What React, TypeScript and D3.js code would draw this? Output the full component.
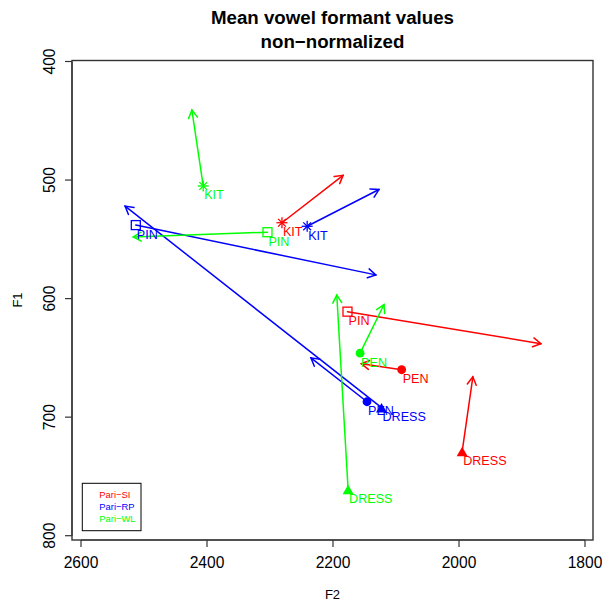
import React from "react";
import * as d3 from "d3";

const speakers = ["Pari−SI", "Pari−RP", "Pari−WL"];
const speakerColors = ["#FF0000", "#0000FF", "#00FF00"];
const vowels = ["KIT", "PIN", "PEN", "DRESS"];
const vowelShapes = ["asterisk", "square", "circle", "triangle"];

// per speaker, per vowel (KIT, PIN, PEN, DRESS)
const startF2 = [
  [2281, 2177, 2091, 1995],
  [2241, 2513, 2146, 2123],
  [2406, 2304, 2157, 2176],
];
const startF1 = [
  [536, 611, 660, 729],
  [539, 538, 687, 692],
  [505, 544, 646, 761],
];
const endF2 = [
  [2184, 1870, 2155, 1978],
  [2127, 2132, 2235, 2530],
  [2424, 2517, 2119, 2194],
];
const endF1 = [
  [496, 638, 655, 666],
  [508, 580, 650, 522],
  [441, 548, 605, 597],
];

const xTicks = [2600, 2400, 2200, 2000, 1800];
const yTicks = [400, 500, 600, 700, 800];

const FONT = "'Liberation Sans', Arial, Helvetica, sans-serif";

function Symbol({ shape, cx, cy, color }: { shape: string; cx: number; cy: number; color: string }) {
  if (shape === "asterisk") {
    const r = 5.5;
    const d = r * Math.SQRT1_2;
    return (
      <g stroke={color} strokeWidth={1.3}>
        <line x1={cx - r} y1={cy} x2={cx + r} y2={cy} />
        <line x1={cx} y1={cy - r} x2={cx} y2={cy + r} />
        <line x1={cx - d} y1={cy - d} x2={cx + d} y2={cy + d} />
        <line x1={cx - d} y1={cy + d} x2={cx + d} y2={cy - d} />
      </g>
    );
  }
  if (shape === "square") {
    const s = 9;
    return <rect x={cx - s / 2} y={cy - s / 2} width={s} height={s} fill="none" stroke={color} strokeWidth={1.3} />;
  }
  if (shape === "circle") {
    return <circle cx={cx} cy={cy} r={4.4} fill={color} />;
  }
  const w = 11;
  const h = 9.5;
  const p = `M${cx - w / 2},${cy + h / 2}L${cx + w / 2},${cy + h / 2}L${cx},${cy - h / 2}Z`;
  return <path d={p} fill={color} />;
}

function Arrow({ x1, y1, x2, y2, color }: { x1: number; y1: number; x2: number; y2: number; color: string }) {
  const ang = Math.atan2(y2 - y1, x2 - x1);
  const L = 9;
  const a = Math.PI / 6;
  const b1x = x2 - L * Math.cos(ang - a);
  const b1y = y2 - L * Math.sin(ang - a);
  const b2x = x2 - L * Math.cos(ang + a);
  const b2y = y2 - L * Math.sin(ang + a);
  return (
    <g stroke={color} strokeWidth={1.5} fill="none" strokeLinecap="round">
      <line x1={x1} y1={y1} x2={x2} y2={y2} />
      <path d={`M${b1x},${b1y}L${x2},${y2}L${b2x},${b2y}`} />
    </g>
  );
}

export default function App() {
  const W = 602;
  const H = 603;
  const box = { l: 72, r: 593, t: 60.5, b: 540 };
  const x = d3.scaleLinear().domain([2600, 1800]).range([81, 585]);
  const y = d3.scaleLinear().domain([400, 800]).range([61.5, 535.7]);
  const cxm = (box.l + box.r) / 2;

  return (
    <svg width={W} height={H} style={{ position: "absolute", left: 0, top: 0, background: "#fff" }} fontFamily={FONT}>
      <rect x={0} y={0} width={W} height={H} fill="#fff" />
      {/* title */}
      <text x={cxm} y={24} textAnchor="middle" fontWeight="bold" fontSize={18.7} fill="#000">
        Mean vowel formant values
      </text>
      <text x={cxm} y={48} textAnchor="middle" fontWeight="bold" fontSize={18.7} fill="#000">
        non−normalized
      </text>

      {/* box */}
      <rect x={box.l} y={box.t} width={box.r - box.l} height={box.b - box.t} fill="none" stroke="#333" strokeWidth={1.4} />

      {/* x axis */}
      <line x1={x(2600)} x2={x(1800)} y1={box.b} y2={box.b} stroke="#333" strokeWidth={1.2} />
      {xTicks.map((t) => (
        <g key={"xt" + t}>
          <line x1={x(t)} x2={x(t)} y1={box.b} y2={box.b + 7} stroke="#333" strokeWidth={1.2} />
          <text x={x(t)} y={568} textAnchor="middle" fontSize={15.6} fill="#000">
            {t}
          </text>
        </g>
      ))}
      <text x={cxm} y={599} textAnchor="middle" fontSize={13} fill="#000">
        F2
      </text>

      {/* y axis */}
      <line x1={box.l} x2={box.l} y1={y(400)} y2={y(800)} stroke="#333" strokeWidth={1.2} />
      {yTicks.map((t) => (
        <g key={"yt" + t}>
          <line x1={box.l - 7} x2={box.l} y1={y(t)} y2={y(t)} stroke="#333" strokeWidth={1.2} />
          <text
            x={55}
            y={y(t)}
            textAnchor="middle"
            fontSize={15.6}
            fill="#000"
            transform={`rotate(-90, 55, ${y(t)})`}
          >
            {t}
          </text>
        </g>
      ))}
      <text x={22} y={300} textAnchor="middle" fontSize={13} fill="#000" transform="rotate(-90, 22, 300)">
        F1
      </text>

      {/* arrows */}
      {speakers.map((s, si) =>
        vowels.map((v, vi) => (
          <Arrow
            key={`a-${si}-${vi}`}
            x1={x(startF2[si][vi])}
            y1={y(startF1[si][vi])}
            x2={x(endF2[si][vi])}
            y2={y(endF1[si][vi])}
            color={speakerColors[si]}
          />
        ))
      )}

      {/* points */}
      {speakers.map((s, si) =>
        vowels.map((v, vi) => (
          <Symbol
            key={`p-${si}-${vi}`}
            shape={vowelShapes[vi]}
            cx={x(startF2[si][vi])}
            cy={y(startF1[si][vi])}
            color={speakerColors[si]}
          />
        ))
      )}

      {/* labels */}
      {speakers.map((s, si) =>
        vowels.map((v, vi) => (
          <text
            key={`l-${si}-${vi}`}
            x={x(startF2[si][vi]) + 1}
            y={y(startF1[si][vi]) + 13.5}
            fontSize={12.6}
            fill={speakerColors[si]}
          >
            {v}
          </text>
        ))
      )}

      {/* legend */}
      <rect x={82.3} y={483.3} width={58.7} height={47.4} fill="#fff" stroke="#000" strokeWidth={1} />
      {speakers.map((s, si) => (
        <text key={"lg" + s} x={99.3} y={495 + si * 12 + 3.3} fontSize={9.4} fill={speakerColors[si]}>
          {s}
        </text>
      ))}
    </svg>
  );
}
